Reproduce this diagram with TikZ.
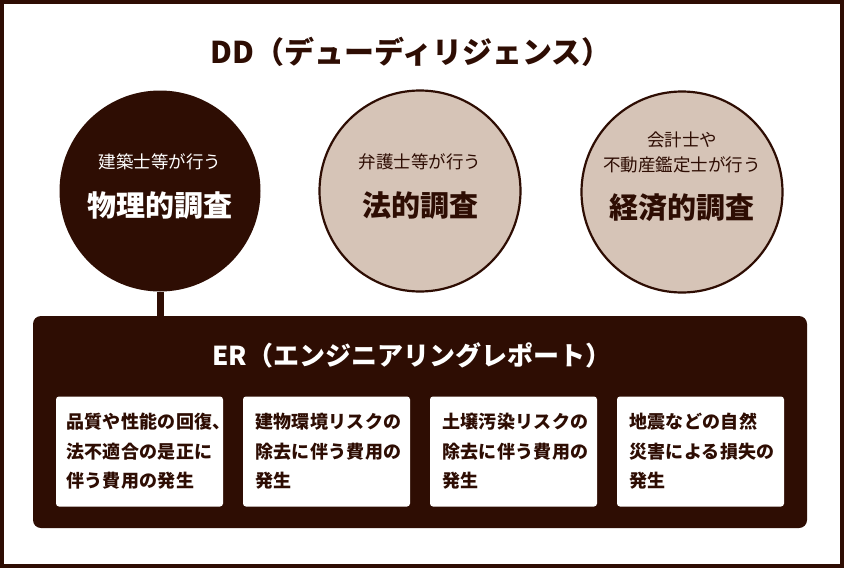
\documentclass[tikz,border=0pt]{standalone}
\usepackage{fontspec}
\setmainfont{Noto Sans CJK JP}
\definecolor{dark}{RGB}{46,13,3}
\definecolor{light}{RGB}{214,196,183}
\begin{document}
\begin{tikzpicture}[x=1pt,y=-1pt,
  bigcircle/.style={circle, minimum size=201pt, inner sep=0pt},
  smalltxt/.style={font=\fontsize{17.5}{24}\selectfont, inner sep=0pt, align=center},
  bigtxt/.style={font=\fontsize{29}{34}\selectfont\bfseries, inner sep=0pt},
  itembox/.style={fill=white, rounded corners=3pt, minimum width=167pt, minimum height=110pt, inner sep=0pt},
  itemtxt/.style={font=\fontsize{18}{29.5}\selectfont\bfseries\addfontfeatures{LetterSpace=2}, text=dark, inner sep=0pt, align=left, anchor=west}]
\useasboundingbox (0,0) rectangle (844,568);
\fill[white] (0,0) rectangle (844,568);
\draw[dark, line width=4pt] (2,2) rectangle (842,566);
% title
\node[font=\fontsize{30}{34}\selectfont\bfseries, text=dark, inner sep=0pt] (title) at (411,52) {DD（デューディリジェンス）};
% circles
\node[bigcircle, fill=dark] (c1) at (160,191) {};
\node[bigcircle, fill=light, draw=dark, line width=2.2pt] (c2) at (420,191) {};
\node[bigcircle, fill=light, draw=dark, line width=2.2pt] (c3) at (682,192) {};
\node[smalltxt, text=white] (c1a) at (160,162) {建築士等が行う};
\node[bigtxt, text=white] (c1b) at (160,206) {物理的調査};
\node[smalltxt, text=dark] (c2a) at (420,162) {弁護士等が行う};
\node[bigtxt, text=dark] (c2b) at (420,206) {法的調査};
\node[smalltxt, text=dark] (c3a) at (682,140) {会計士や};
\node[smalltxt, text=dark] (c3b) at (682,165) {不動産鑑定士が行う};
\node[bigtxt, text=dark] (c3c) at (682,208) {経済的調査};
% ER box
\node[fill=dark, rounded corners=8pt, minimum width=774pt, minimum height=212pt, inner sep=0pt] (er) at (420,422) {};
\draw[dark, line width=7pt] (c1.south) -- (c1.south |- er.north);
\node[font=\fontsize{26}{30}\selectfont\bfseries, text=white, inner sep=0pt] (ertitle) at (412,355) {ER（エンジニアリングレポート）};
% items
\node[itembox] (b1) at (139.5,451.5) {};
\node[itembox] (b2) at (326.5,451.5) {};
\node[itembox] (b3) at (513.5,451.5) {};
\node[itembox] (b4) at (700.5,451.5) {};
\node[itemtxt] (t1) at ([xshift=10pt]b1.west) {品質や性能の回復、\\法不適合の是正に\\伴う費用の発生};
\node[itemtxt] (t2) at ([xshift=12pt]b2.west) {建物環境リスクの\\除去に伴う費用の\\発生};
\node[itemtxt] (t3) at ([xshift=12pt]b3.west) {土壌汚染リスクの\\除去に伴う費用の\\発生};
\node[itemtxt] (t4) at ([xshift=12pt]b4.west) {地震などの自然\\災害による損失の\\発生};
\end{tikzpicture}
\end{document}
